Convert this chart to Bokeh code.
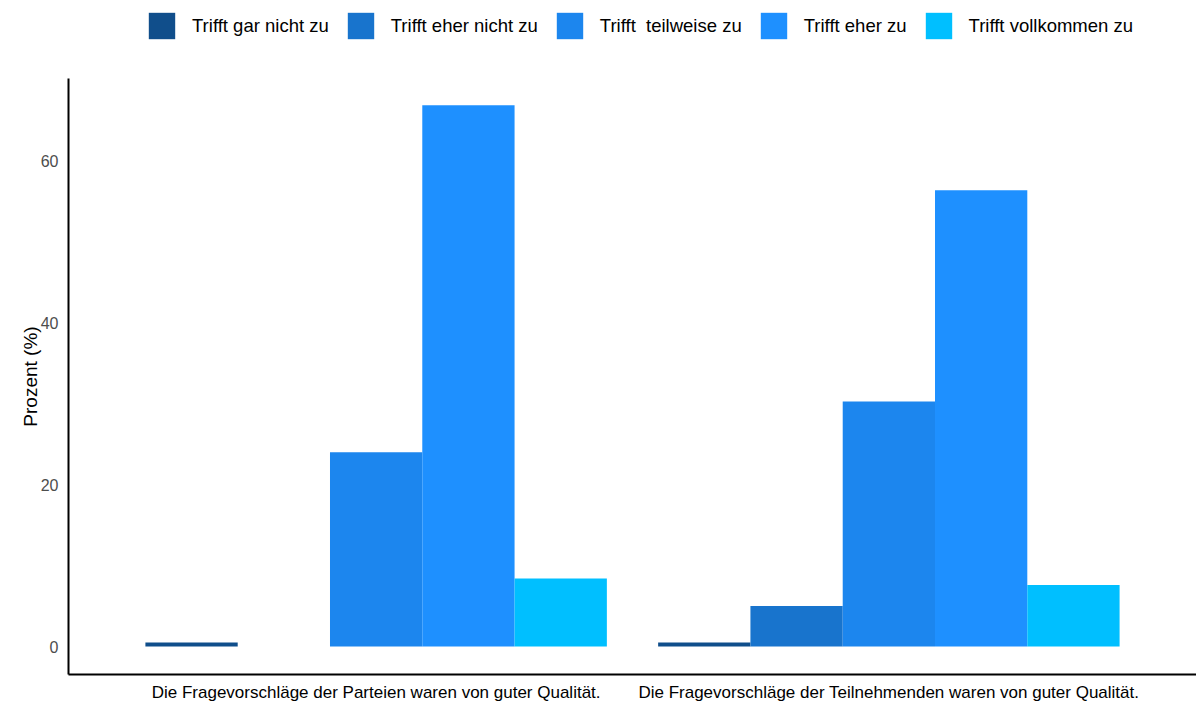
from bokeh.plotting import figure
from bokeh.layouts import column
from bokeh.models import ColumnDataSource, FactorRange, Range1d, Legend, LegendItem, FixedTicker
from bokeh.transform import dodge
from bokeh.embed import file_html
from bokeh.resources import INLINE

categories = [
    "Die Fragevorschläge der Parteien waren von guter Qualität.",
    "Die Fragevorschläge der Teilnehmenden waren von guter Qualität.",
]
series_names = [
    "Trifft gar nicht zu",
    "Trifft eher nicht zu",
    "Trifft  teilweise zu",
    "Trifft eher zu",
    "Trifft vollkommen zu",
]
gar_nicht = [0.5, 0.5]
eher_nicht = [0.0, 5.0]
teilweise = [24.0, 30.3]
eher_zu = [66.9, 56.4]
vollkommen = [8.4, 7.6]
y_ticks = [0, 20, 40, 60]

colors = ["#104E8B", "#1874CD", "#1C86EE", "#1E90FF", "#00BFFF"]
cols = ["gar_nicht", "eher_nicht", "teilweise", "eher_zu", "vollkommen"]

source = ColumnDataSource(dict(
    cat=categories,
    gar_nicht=gar_nicht,
    eher_nicht=eher_nicht,
    teilweise=teilweise,
    eher_zu=eher_zu,
    vollkommen=vollkommen,
))

FONT = "Liberation Sans"
bar_w = 0.18
offsets = [-0.36, -0.18, 0.0, 0.18, 0.36]

x_range = FactorRange(factors=categories, range_padding=0.1, range_padding_units="absolute")

# ---- main chart ----
p = figure(
    width=1196, height=626,
    x_range=x_range,
    y_range=Range1d(-3.45, 70.2),
    output_backend="svg", toolbar_location=None,
    min_border_left=68, min_border_right=0, min_border_top=0, min_border_bottom=0,
)

for name, col, color, off in zip(series_names, cols, colors, offsets):
    p.vbar(x=dodge("cat", off, range=x_range), top=col, bottom=0, width=bar_w,
           source=source, fill_color=color, line_color=None)

p.xgrid.visible = False
p.ygrid.visible = False
p.outline_line_color = None

p.yaxis.ticker = FixedTicker(ticks=y_ticks)
p.yaxis.axis_label = "Prozent (%)"
p.yaxis.axis_label_text_font = FONT
p.yaxis.axis_label_text_font_size = "19px"
p.yaxis.axis_label_text_font_style = "normal"
p.yaxis.axis_label_text_color = "#000000"
p.yaxis.axis_label_standoff = -3
p.yaxis.major_label_text_font = FONT
p.yaxis.major_label_text_font_size = "16px"
p.yaxis.major_label_text_color = "#4D4D4D"
p.yaxis.major_label_standoff = 4

p.xaxis.major_label_text_font = FONT
p.xaxis.major_label_text_font_size = "17px"
p.xaxis.major_label_text_color = "#000000"
p.xaxis.major_label_standoff = 2

for ax in (p.xaxis, p.yaxis):
    ax.axis_line_color = "#000000"
    ax.axis_line_width = 2
    ax.major_tick_line_color = None
    ax.minor_tick_line_color = None

# ---- legend strip (same data, bars kept out of its visible y-range) ----
lg = figure(
    width=1196, height=78, x_range=x_range, y_range=Range1d(1000, 1001),
    output_backend="svg", toolbar_location=None,
    x_axis_location=None, y_axis_location=None,
    min_border_left=0, min_border_right=0, min_border_top=0, min_border_bottom=0,
)
lg.xgrid.visible = False
lg.ygrid.visible = False
lg.outline_line_color = None
items = []
for name, col, color, off in zip(series_names, cols, colors, offsets):
    r = lg.vbar(x=dodge("cat", off, range=x_range), top=col, bottom=0, width=bar_w,
                source=source, fill_color=color, line_color=None)
    items.append(LegendItem(label=name, renderers=[r]))

legend = Legend(
    items=items, orientation="horizontal", location=(77, 36),
    glyph_width=33, glyph_height=33, label_standoff=14, spacing=15,
    padding=0, margin=0, border_line_color=None, background_fill_alpha=0,
    label_text_font=FONT, label_text_font_size="18.5px", label_text_color="#000000",
    label_height=33,
)
lg.add_layout(legend, "center")

layout = column(lg, p, spacing=0)
open("out.html", "w").write(file_html(layout, INLINE))
